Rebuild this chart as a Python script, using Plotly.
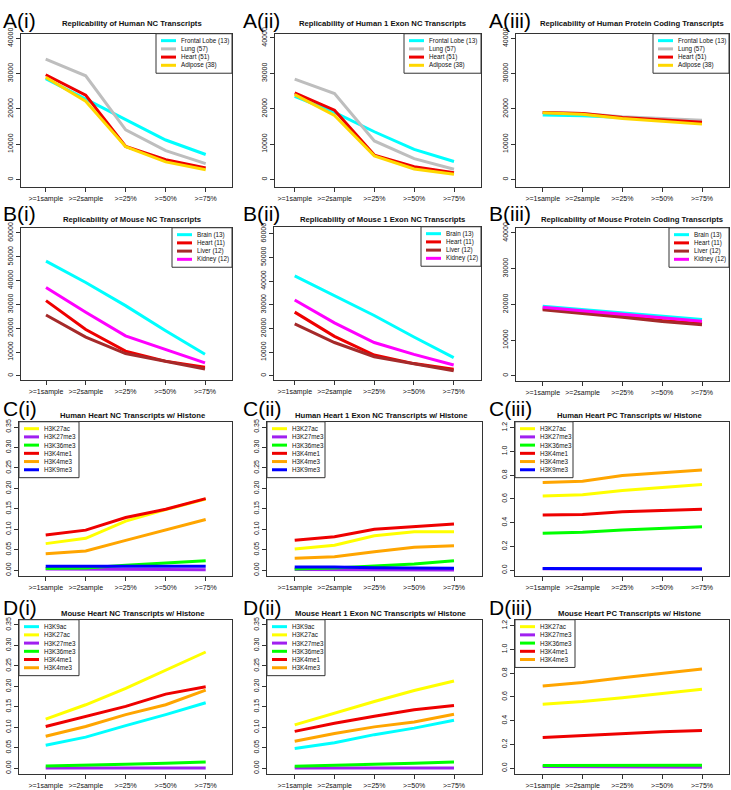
import plotly.graph_objects as go

W, H = 731, 790

categories = [">=1sample", ">=2sample", ">=25%", ">=50%", ">=75%"]
xpos = [1, 2, 3, 4, 5]

# ---------------- data ----------------
# A(i) Human NC
a1_frontal = [28600, 22800, 16800, 11200, 7100]
a1_lung = [34100, 29400, 14100, 8200, 4500]
a1_heart = [29700, 23900, 9400, 5600, 3300]
a1_adipose = [29000, 22200, 9300, 5000, 2800]
# A(ii) Human 1 exon NC
a2_frontal = [23500, 19000, 13500, 8500, 5100]
a2_lung = [28400, 24300, 10900, 5900, 2900]
a2_heart = [24500, 19600, 6900, 3600, 1900]
a2_adipose = [24000, 18100, 6700, 3000, 1500]
# A(iii) Human protein coding
a3_frontal = [18300, 18100, 17600, 17100, 16600]
a3_lung = [19000, 18700, 17800, 17200, 16800]
a3_heart = [19000, 18700, 17600, 16800, 16200]
a3_adipose = [18900, 18500, 17300, 16400, 15700]
# B(i) Mouse NC
b1_brain = [48200, 39200, 29500, 19100, 9100]
b1_heart = [31600, 19500, 10400, 6200, 3700]
b1_liver = [25600, 16300, 9400, 6000, 2900]
b1_kidney = [37100, 26700, 16800, 11100, 5500]
# B(ii) Mouse 1 exon NC
b2_brain = [42200, 33800, 25500, 16400, 7700]
b2_heart = [26900, 16700, 8800, 5200, 2800]
b2_liver = [22000, 14100, 8100, 5000, 2200]
b2_kidney = [32000, 22400, 14100, 9100, 4600]
# B(iii) Mouse protein coding
b3_brain = [19500, 18600, 17500, 16700, 15800]
b3_heart = [18800, 17800, 16700, 15500, 14600]
b3_liver = [18500, 17500, 16400, 15200, 14300]
b3_kidney = [19200, 18300, 17400, 16300, 15300]
# C(i) Human heart NC w/ histone
c1_h3k27ac = [0.065, 0.078, 0.120, 0.148, 0.174]
c1_h3k27me3 = [0.003, 0.003, 0.003, 0.002, 0.001]
c1_h3k36me3 = [0.004, 0.0056, 0.012, 0.018, 0.023]
c1_h3k4me1 = [0.086, 0.098, 0.129, 0.149, 0.175]
c1_h3k4me3 = [0.040, 0.047, 0.073, 0.098, 0.124]
c1_h3k9me3 = [0.0097, 0.0095, 0.009, 0.009, 0.0097]
# C(ii) Human heart 1 exon NC w/ histone
c2_h3k27ac = [0.052, 0.061, 0.084, 0.094, 0.094]
c2_h3k27me3 = [0.0016, 0.0016, 0.0012, 0.001, 0.0005]
c2_h3k36me3 = [0.003, 0.0056, 0.0105, 0.015, 0.023]
c2_h3k4me1 = [0.073, 0.082, 0.100, 0.106, 0.113]
c2_h3k4me3 = [0.029, 0.033, 0.045, 0.056, 0.060]
c2_h3k9me3 = [0.008, 0.008, 0.006, 0.006, 0.005]
# C(iii) Human heart PC w/ histone
c3_h3k27ac = [0.625, 0.636, 0.672, 0.697, 0.722]
c3_h3k27me3 = [0.012, 0.012, 0.011, 0.011, 0.010]
c3_h3k36me3 = [0.311, 0.319, 0.339, 0.353, 0.367]
c3_h3k4me1 = [0.464, 0.469, 0.492, 0.503, 0.514]
c3_h3k4me3 = [0.739, 0.750, 0.797, 0.822, 0.844]
c3_h3k9me3 = [0.014, 0.014, 0.011, 0.011, 0.011]
# D(i) Mouse heart NC w/ histone
d1_h3k9ac = [0.056, 0.076, 0.104, 0.131, 0.160]
d1_h3k27ac = [0.120, 0.155, 0.195, 0.239, 0.284]
d1_h3k27me3 = [0.0008, 0.0007, 0.0006, 0.0005, 0.0005]
d1_h3k36me3 = [0.0056, 0.007, 0.0097, 0.012, 0.015]
d1_h3k4me1 = [0.102, 0.127, 0.151, 0.181, 0.199]
d1_h3k4me3 = [0.078, 0.102, 0.131, 0.155, 0.191]
# D(ii) Mouse heart 1 exon NC w/ histone
d2_h3k9ac = [0.048, 0.062, 0.082, 0.098, 0.117]
d2_h3k27ac = [0.106, 0.135, 0.163, 0.190, 0.213]
d2_h3k27me3 = [0.0008, 0.0007, 0.0006, 0.0005, 0.0005]
d2_h3k36me3 = [0.005, 0.007, 0.0097, 0.012, 0.015]
d2_h3k4me1 = [0.090, 0.110, 0.127, 0.143, 0.153]
d2_h3k4me3 = [0.066, 0.085, 0.101, 0.113, 0.132]
# D(iii) Mouse heart PC w/ histone
d3_h3k27ac = [0.539, 0.561, 0.594, 0.628, 0.664]
d3_h3k27me3 = [0.014, 0.014, 0.014, 0.011, 0.008]
d3_h3k36me3 = [0.022, 0.022, 0.022, 0.022, 0.025]
d3_h3k4me1 = [0.258, 0.275, 0.289, 0.306, 0.317]
d3_h3k4me3 = [0.692, 0.722, 0.761, 0.800, 0.836]

ticks_40k = [0, 10000, 20000, 30000, 40000]
ticks_60k = [0, 10000, 20000, 30000, 40000, 50000, 60000]
ticks_035 = [0.00, 0.05, 0.10, 0.15, 0.20, 0.25, 0.30, 0.35]
ticks_12 = [0.0, 0.2, 0.4, 0.6, 0.8, 1.0, 1.2]

# ---------------- styles ----------------
COL = {
    "Frontal Lobe (13)": "#00FFFF", "Lung (57)": "#BEBEBE", "Heart (51)": "#EE0000",
    "Adipose (38)": "#FFD700",
    "Brain (13)": "#00FFFF", "Heart (11)": "#EE0000", "Liver (12)": "#A52A2A",
    "Kidney (12)": "#FF00FF",
    "H3K9ac": "#00FFFF", "H3K27ac": "#FFFF00", "H3K27me3": "#A020F0",
    "H3K36me3": "#00FF00", "H3K4me1": "#EE0000", "H3K4me3": "#FFA500", "H3K9me3": "#0000FF",
}

human_tissues = ["Frontal Lobe (13)", "Lung (57)", "Heart (51)", "Adipose (38)"]
mouse_tissues = ["Brain (13)", "Heart (11)", "Liver (12)", "Kidney (12)"]
hist6 = ["H3K27ac", "H3K27me3", "H3K36me3", "H3K4me1", "H3K4me3", "H3K9me3"]
mhist6 = ["H3K9ac", "H3K27ac", "H3K27me3", "H3K36me3", "H3K4me1", "H3K4me3"]
mhist5 = ["H3K27ac", "H3K27me3", "H3K36me3", "H3K4me1", "H3K4me3"]

panels = [
    dict(label="A(i)", title="Replicability of Human NC Transcripts",
         names=human_tissues, series=[a1_frontal, a1_lung, a1_heart, a1_adipose],
         box=(21, 232, 27, 182), xp=(45.7, 205.7), yp=(174.3, 31.7), ticks=ticks_40k, fmt="{:.0f}",
         leg=dict(l=156, r=232, t=27), lab=(1, 0), ttl=(132, 17)),
    dict(label="A(ii)", title="Replicability of Human 1 Exon NC Transcripts",
         names=human_tissues, series=[a2_frontal, a2_lung, a2_heart, a2_adipose],
         box=(275, 481, 27, 182), xp=(294.7, 454), yp=(174.3, 31.3), ticks=ticks_40k, fmt="{:.0f}",
         leg=dict(l=404, r=481, t=27), lab=(241, 0), ttl=(383, 17)),
    dict(label="A(iii)", title="Replicability of Human Protein Coding Transcripts",
         names=human_tissues, series=[a3_frontal, a3_lung, a3_heart, a3_adipose],
         box=(516, 729, 27, 182), xp=(542.7, 702), yp=(174.3, 31.7), ticks=ticks_40k, fmt="{:.0f}",
         leg=dict(l=653, r=729, t=27), lab=(487, 0), ttl=(632, 17)),
    dict(label="B(i)", title="Replicability of Mouse NC Transcripts",
         names=mouse_tissues, series=[b1_brain, b1_heart, b1_liver, b1_kidney],
         box=(21, 232, 223, 377), xp=(46, 205), yp=(372.7, 228.3), ticks=ticks_60k, fmt="{:.0f}",
         leg=dict(l=172, r=232, t=223), lab=(1, 195), ttl=(132, 215)),
    dict(label="B(ii)", title="Replicability of Mouse 1 Exon NC Transcripts",
         names=mouse_tissues, series=[b2_brain, b2_heart, b2_liver, b2_kidney],
         box=(274, 481, 222, 377), xp=(294.7, 453.7), yp=(372.7, 229), ticks=ticks_60k, fmt="{:.0f}",
         leg=dict(l=421, r=481, t=222), lab=(241, 195), ttl=(383, 215)),
    dict(label="B(iii)", title="Replicability of Mouse Protein Coding Transcripts",
         names=mouse_tissues, series=[b3_brain, b3_heart, b3_liver, b3_kidney],
         box=(516, 729, 223, 378), xp=(542.7, 702), yp=(372.7, 228.3), ticks=ticks_40k, fmt="{:.0f}",
         leg=dict(l=669, r=729, t=223), lab=(487, 195), ttl=(632, 215)),
    dict(label="C(i)", title="Human Heart NC Transcripts w/ Histone",
         names=hist6, series=[c1_h3k27ac, c1_h3k27me3, c1_h3k36me3, c1_h3k4me1, c1_h3k4me3, c1_h3k9me3],
         box=(19, 232, 419, 575), xp=(45.7, 205.7), yp=(569, 424.3), ticks=ticks_035, fmt="{:.2f}",
         leg=dict(l=19, r=79, t=419), lab=(1, 392), ttl=(133, 413)),
    dict(label="C(ii)", title="Human Heart 1 Exon NC Transcripts w/ Histone",
         names=hist6, series=[c2_h3k27ac, c2_h3k27me3, c2_h3k36me3, c2_h3k4me1, c2_h3k4me3, c2_h3k9me3],
         box=(267, 482, 419, 575), xp=(294.7, 454), yp=(569, 424.3), ticks=ticks_035, fmt="{:.2f}",
         leg=dict(l=267, r=325, t=419), lab=(241, 392), ttl=(381, 413)),
    dict(label="C(iii)", title="Human Heart PC Transcripts w/ Histone",
         names=hist6, series=[c3_h3k27ac, c3_h3k27me3, c3_h3k36me3, c3_h3k4me1, c3_h3k4me3, c3_h3k9me3],
         box=(515, 729, 419, 575), xp=(542.7, 702), yp=(569, 425), ticks=ticks_12, fmt="{:.1f}",
         leg=dict(l=515, r=573, t=419), lab=(487, 392), ttl=(630, 413)),
    dict(label="D(i)", title="Mouse Heart NC Transcripts w/ Histone",
         names=mhist6, series=[d1_h3k9ac, d1_h3k27ac, d1_h3k27me3, d1_h3k36me3, d1_h3k4me1, d1_h3k4me3],
         box=(19, 232, 619, 775), xp=(45.7, 205.7), yp=(769, 624.3), ticks=ticks_035, fmt="{:.2f}",
         leg=dict(l=19, r=79, t=619), lab=(1, 593), ttl=(133, 613)),
    dict(label="D(ii)", title="Mouse Heart 1 Exon NC Transcripts w/ Histone",
         names=mhist6, series=[d2_h3k9ac, d2_h3k27ac, d2_h3k27me3, d2_h3k36me3, d2_h3k4me1, d2_h3k4me3],
         box=(267, 482, 619, 775), xp=(294.7, 454), yp=(769, 624.3), ticks=ticks_035, fmt="{:.2f}",
         leg=dict(l=267, r=325, t=619), lab=(241, 593), ttl=(381, 613)),
    dict(label="D(iii)", title="Mouse Heart PC Transcripts w/ Histone",
         names=mhist5, series=[d3_h3k27ac, d3_h3k27me3, d3_h3k36me3, d3_h3k4me1, d3_h3k4me3],
         box=(515, 729, 619, 775), xp=(542.7, 702), yp=(769, 625), ticks=ticks_12, fmt="{:.1f}",
         leg=dict(l=515, r=575, t=619), lab=(487, 593), ttl=(630, 613)),
]

FONT = "Arial, 'Liberation Sans', sans-serif"
BOX = "#333333"


def px(xp):
    return xp / W


def py(yp):
    return 1 - yp / H


fig = go.Figure()
shapes = []
annotations = []
layout = {}

for i, p in enumerate(panels, start=1):
    xa = "x" if i == 1 else f"x{i}"
    ya = "y" if i == 1 else f"y{i}"
    l, r, t, b = p["box"]
    x1p, x5p = p["xp"]
    u = (x5p - x1p) / 4.0
    xr = [1 + (l - x1p) / u, 1 + (r - x1p) / u]
    y0p, ytp = p["yp"]
    s = (y0p - ytp) / p["ticks"][-1]
    yr = [-(b - y0p) / s, (y0p - t) / s]

    for name, vals in zip(p["names"], p["series"]):
        fig.add_trace(go.Scatter(x=xpos, y=vals, mode="lines", name=name,
                                 line=dict(color=COL[name], width=3),
                                 xaxis=xa, yaxis=ya, showlegend=False,
                                 hoverinfo="x+y+name"))

    layout["xaxis" if i == 1 else f"xaxis{i}"] = dict(
        domain=[px(l), px(r)], range=xr, anchor=ya,
        tickmode="array", tickvals=xpos, ticktext=categories,
        ticks="outside", ticklen=4, tickwidth=1, tickcolor=BOX,
        showline=True, linecolor=BOX, linewidth=1, mirror=True,
        showgrid=False, zeroline=False, tickangle=0,
        tickfont=dict(size=7, color="#111", family=FONT), fixedrange=True)
    layout["yaxis" if i == 1 else f"yaxis{i}"] = dict(
        domain=[py(b), py(t)], range=yr, anchor=xa,
        tickmode="array", tickvals=p["ticks"],
        ticktext=[p["fmt"].format(v) for v in p["ticks"]],
        ticks="outside", ticklen=4, tickwidth=1, tickcolor=BOX,
        showline=True, linecolor=BOX, linewidth=1, mirror=True,
        showgrid=False, zeroline=False, tickangle=-90,
        tickfont=dict(size=7, color="#111", family=FONT), fixedrange=True)

    # panel title
    tx, ty = p["ttl"]
    annotations.append(dict(text="<b>" + p["title"] + "</b>", x=px(tx), y=py(ty),
                            xref="paper", yref="paper", xanchor="center", yanchor="middle",
                            showarrow=False, font=dict(size=7.7, color="#111", family=FONT)))
    # panel label
    lx, ly = p["lab"]
    annotations.append(dict(text=p["label"], x=px(lx), y=py(ly), xref="paper", yref="paper",
                            xanchor="left", yanchor="top", showarrow=False,
                            font=dict(size=21, color="#000", family=FONT)))

    # legend box drawn by hand (compact R-style legend)
    lg = p["leg"]
    n = len(p["names"])
    step = 8.3
    lh = 15 + (n - 1) * step
    shapes.append(dict(type="rect", xref="paper", yref="paper",
                       x0=px(lg["l"]), x1=px(lg["r"]), y0=py(lg["t"] + lh), y1=py(lg["t"]),
                       line=dict(color=BOX, width=1), fillcolor="white", layer="above"))
    for k, name in enumerate(p["names"]):
        cy = lg["t"] + 7 + k * step
        shapes.append(dict(type="line", xref="paper", yref="paper",
                           x0=px(lg["l"] + 5), x1=px(lg["l"] + 20), y0=py(cy), y1=py(cy),
                           line=dict(color=COL[name], width=3), layer="above"))
        annotations.append(dict(text=name, x=px(lg["l"] + 23), y=py(cy), xref="paper", yref="paper",
                                xanchor="left", yanchor="middle", showarrow=False,
                                font=dict(size=6.3, color="#111", family=FONT)))

fig.update_layout(**layout)
fig.update_layout(width=W, height=H, autosize=False,
                  margin=dict(l=0, r=0, t=0, b=0),
                  paper_bgcolor="white", plot_bgcolor="white",
                  shapes=shapes, annotations=annotations, showlegend=False,
                  font=dict(family=FONT))

fig.write_html("out.html",
               config={"displayModeBar": False},
               post_script="document.body.style.margin='0';document.body.style.overflow='hidden';")
